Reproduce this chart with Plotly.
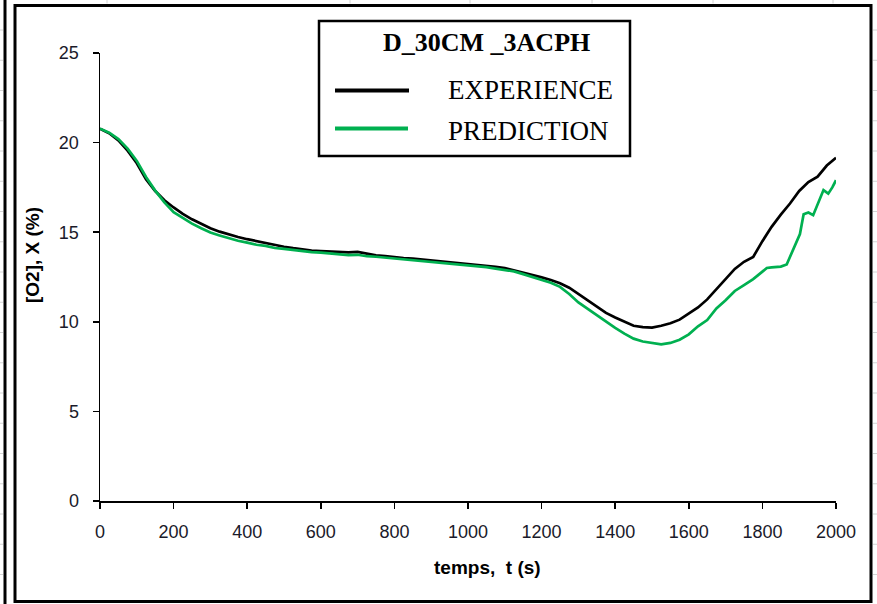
import plotly.graph_objects as go

# ---------------- data ----------------
exp_t = [0, 25, 50, 75, 100, 125, 150, 175, 200, 225, 250, 275, 300, 325, 350, 375,
         400, 425, 450, 475, 500, 525, 550, 575, 600, 625, 650, 675, 700, 725, 750, 775,
         800, 825, 850, 875, 900, 925, 950, 975, 1000, 1025, 1050, 1075, 1100, 1125,
         1150, 1175, 1200, 1225, 1250, 1275, 1300, 1325, 1350, 1375, 1400, 1425, 1450,
         1475, 1500, 1525, 1550, 1575, 1600, 1625, 1650, 1675, 1700, 1725, 1750, 1775,
         1800, 1825, 1850, 1875, 1900, 1925, 1950, 1975, 2000]
exp_o2 = [20.78, 20.52, 20.12, 19.55, 18.85, 17.95, 17.30, 16.78, 16.38, 16.02, 15.72,
          15.46, 15.22, 15.03, 14.87, 14.73, 14.61, 14.50, 14.40, 14.29, 14.19, 14.11,
          14.04, 13.98, 13.95, 13.91, 13.88, 13.87, 13.90, 13.80, 13.71, 13.66, 13.60,
          13.56, 13.53, 13.48, 13.44, 13.40, 13.36, 13.31, 13.26, 13.20, 13.14, 13.07,
          13.00, 12.88, 12.73, 12.60, 12.48, 12.33, 12.15, 11.90, 11.55, 11.20, 10.80,
          10.50, 10.24, 10.00, 9.78, 9.70, 9.68, 9.78, 9.92, 10.12, 10.45, 10.80, 11.25,
          11.82, 12.38, 12.95, 13.35, 13.62, 14.50, 15.30, 15.98, 16.60, 17.30, 17.80,
          18.10, 18.72, 19.15]

pred_t = [0, 25, 50, 75, 100, 125, 150, 175, 200, 225, 250, 275, 300, 325, 350, 375,
          400, 425, 450, 475, 500, 525, 550, 575, 600, 625, 650, 675, 700, 725, 750, 775,
          800, 825, 850, 875, 900, 925, 950, 975, 1000, 1025, 1050, 1075, 1100, 1125,
          1150, 1175, 1200, 1225, 1250, 1275, 1300, 1325, 1350, 1375, 1400, 1425, 1450,
          1475, 1500, 1525, 1550, 1575, 1600, 1625, 1650, 1675, 1700, 1725, 1750, 1775,
          1800, 1812, 1825, 1850, 1866, 1880, 1893, 1902, 1912, 1925, 1938, 1950, 1966,
          1979, 1990, 2000]
pred_o2 = [20.78, 20.55, 20.20, 19.66, 18.98, 18.08, 17.32, 16.66, 16.12, 15.78, 15.48,
           15.22, 14.98, 14.82, 14.66, 14.52, 14.42, 14.30, 14.24, 14.12, 14.07, 14.00,
           13.96, 13.89, 13.86, 13.82, 13.80, 13.72, 13.74, 13.66, 13.63, 13.58, 13.55,
           13.49, 13.46, 13.38, 13.36, 13.29, 13.27, 13.19, 13.15, 13.09, 13.05, 12.97,
           12.90, 12.81, 12.66, 12.50, 12.36, 12.18, 11.95, 11.55, 11.08, 10.72, 10.38,
           10.02, 9.66, 9.34, 9.06, 8.90, 8.80, 8.74, 8.82, 9.00, 9.30, 9.75, 10.10,
           10.75, 11.20, 11.72, 12.05, 12.38, 12.80, 13.00, 13.04, 13.08, 13.20, 13.90,
           14.50, 14.90, 16.00, 16.10, 15.95, 16.60, 17.35, 17.15, 17.50, 17.90]

x_ticks = [0, 200, 400, 600, 800, 1000, 1200, 1400, 1600, 1800, 2000]
y_ticks = [0, 5, 10, 15, 20, 25]

legend_title = "D_30CM _3ACPH"
series_names = ["EXPERIENCE", "PREDICTION"]
series_colors = ["#000000", "#00B050"]

# ---------------- layout geometry (pixels) ----------------
W, H = 877, 604
L, R, T, B = 100, 41, 53, 103
PW, PH = W - L - R, H - T - B


def px(x):
    return (x - L) / PW


def py(y):
    return (H - B - y) / PH


fig = go.Figure()
for tt, vv, name, col in [(exp_t, exp_o2, series_names[0], series_colors[0]),
                          (pred_t, pred_o2, series_names[1], series_colors[1])]:
    fig.add_trace(go.Scatter(x=tt, y=vv, mode="lines", name=name,
                             line=dict(color=col, width=2.7), showlegend=False,
                             hoverinfo="skip"))

shapes = []
# outer chart frame and spreadsheet edge
shapes.append(dict(type="rect", xref="paper", yref="paper",
                   x0=px(15), x1=px(871), y0=py(601.5), y1=py(5.5),
                   line=dict(color="#000", width=3)))
shapes.append(dict(type="line", xref="paper", yref="paper",
                   x0=px(5), x1=px(5), y0=py(0), y1=py(604),
                   line=dict(color="#000", width=3)))
# faint spreadsheet grid lines outside the frame
for k in range(20):
    yy = 30 + 30.25 * k
    shapes.append(dict(type="line", xref="paper", yref="paper",
                       x0=px(0), x1=px(3), y0=py(yy), y1=py(yy),
                       line=dict(color="#d4d4d4", width=1)))
    shapes.append(dict(type="line", xref="paper", yref="paper",
                       x0=px(873), x1=px(877), y0=py(yy), y1=py(yy),
                       line=dict(color="#d4d4d4", width=1)))
for xx in [107, 350, 470, 592, 713, 833]:
    shapes.append(dict(type="line", xref="paper", yref="paper",
                       x0=px(xx), x1=px(xx), y0=py(0), y1=py(3.5),
                       line=dict(color="#d4d4d4", width=1)))
# legend box
shapes.append(dict(type="rect", xref="paper", yref="paper",
                   x0=px(319), x1=px(630), y0=py(156), y1=py(21),
                   line=dict(color="#000", width=2.5), fillcolor="white"))
shapes.append(dict(type="line", xref="paper", yref="paper",
                   x0=px(335), x1=px(409), y0=py(90.5), y1=py(90.5),
                   line=dict(color=series_colors[0], width=4)))
shapes.append(dict(type="line", xref="paper", yref="paper",
                   x0=px(335), x1=px(408), y0=py(128.5), y1=py(128.5),
                   line=dict(color=series_colors[1], width=4)))

serif = "Liberation Serif, Times New Roman, serif"
sans = "Liberation Sans, Arial, sans-serif"
annotations = [
    dict(text="<b>" + legend_title + "</b>", xref="paper", yref="paper",
         x=px(486), y=py(43), xanchor="center", yanchor="middle", showarrow=False,
         font=dict(family=serif, size=26, color="#000")),
    dict(text=series_names[0], xref="paper", yref="paper",
         x=px(446), y=py(90), xanchor="left", yanchor="middle", showarrow=False,
         font=dict(family=serif, size=27, color="#000")),
    dict(text=series_names[1], xref="paper", yref="paper",
         x=px(446), y=py(131), xanchor="left", yanchor="middle", showarrow=False,
         font=dict(family=serif, size=27, color="#000")),
    dict(text="<b>temps,  t (s)</b>", xref="paper", yref="paper",
         x=px(487), y=py(567), xanchor="center", yanchor="middle", showarrow=False,
         font=dict(family=sans, size=19, color="#000")),
    dict(text="<b>[O2], X (%)</b>", xref="paper", yref="paper", textangle=-90,
         x=px(33), y=py(255), xanchor="center", yanchor="middle", showarrow=False,
         font=dict(family=sans, size=19, color="#000")),
]

fig.update_layout(
    width=W, height=H, autosize=False,
    margin=dict(l=L, r=R, t=T, b=B, pad=0),
    paper_bgcolor="white", plot_bgcolor="white",
    shapes=shapes, annotations=annotations,
    showlegend=False, hovermode=False,
)
fig.update_xaxes(range=[0, 2000], tickvals=x_ticks, showgrid=False, zeroline=False,
                 showline=True, linecolor="#000", linewidth=1.5,
                 ticks="outside", ticklen=6, tickwidth=1.5, tickcolor="#000",
                 ticklabelstandoff=8,
                 tickfont=dict(family=sans, size=18, color="#1a1a2a"))
fig.update_yaxes(range=[0, 25], tickvals=y_ticks, showgrid=False, zeroline=False,
                 showline=True, linecolor="#000", linewidth=1.5,
                 ticks="outside", ticklen=6, tickwidth=1.5, tickcolor="#000",
                 ticklabelstandoff=10,
                 tickfont=dict(family=sans, size=18, color="#1a1a2a"))

fig.write_html("out.html",
               config={"displayModeBar": False, "staticPlot": True},
               post_script="document.body.style.margin='0';"
                           "document.body.style.overflow='hidden';")
